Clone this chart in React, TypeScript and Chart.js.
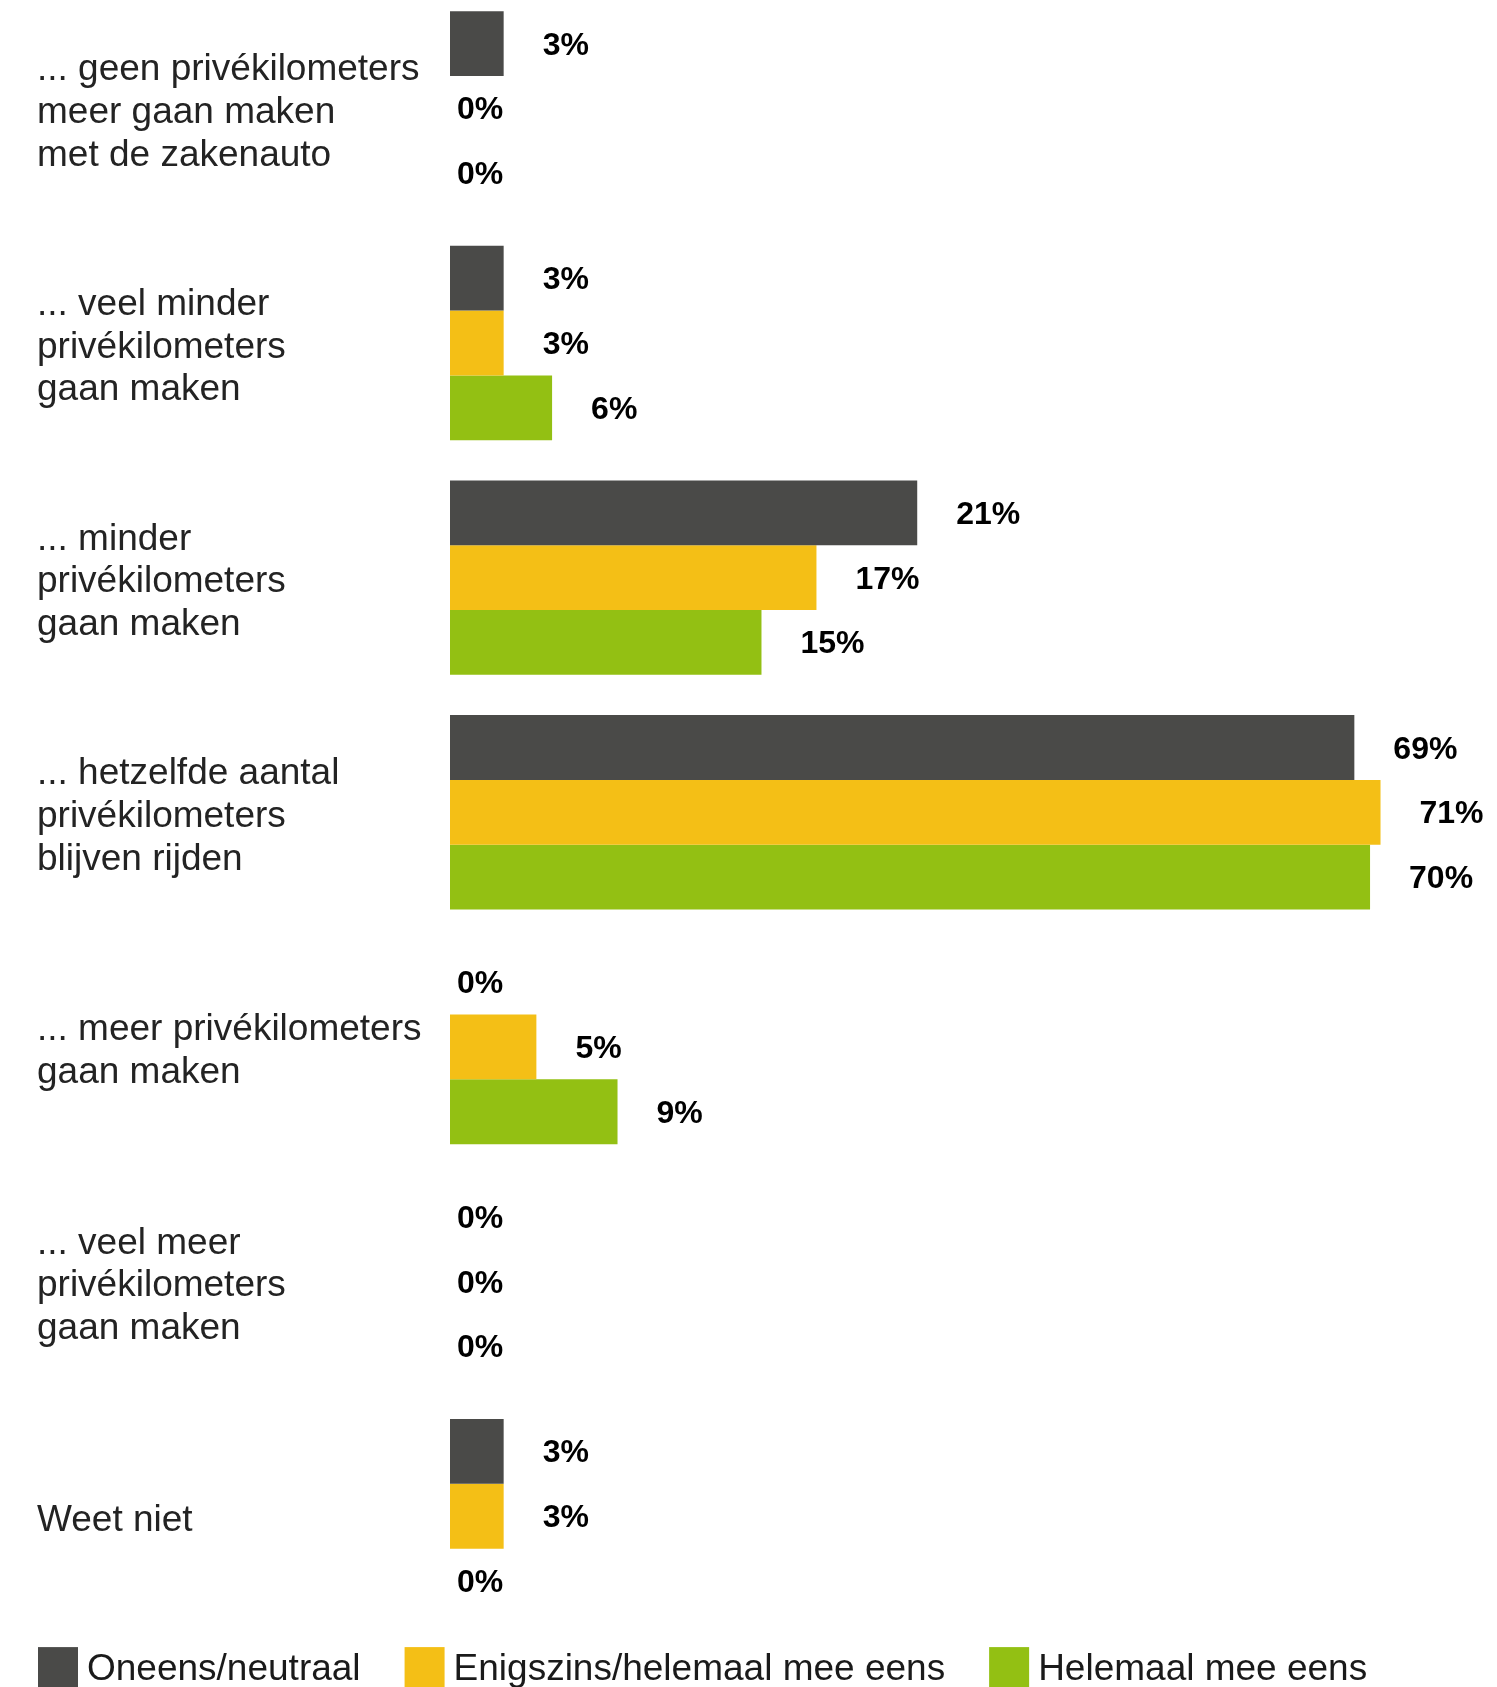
import React, { useEffect, useRef } from 'react';
import { Chart, registerables } from 'chart.js';

Chart.register(...registerables);

// ---- data ----
const categories: string[][] = [
  ['... geen privékilometers', 'meer gaan maken', 'met de zakenauto'],
  ['... veel minder', 'privékilometers', 'gaan maken'],
  ['... minder', 'privékilometers', 'gaan maken'],
  ['... hetzelfde aantal', 'privékilometers', 'blijven rijden'],
  ['... meer privékilometers', 'gaan maken'],
  ['... veel meer', 'privékilometers', 'gaan maken'],
  ['Weet niet'],
];

const seriesNames = ['Oneens/neutraal', 'Enigszins/helemaal mee eens', 'Helemaal mee eens'];
const seriesColors = ['#4a4a48', '#f4bf16', '#93c013'];

// bar lengths as drawn in the picture
const darkBars = [4.1, 4.1, 35.7, 69.1, 0, 0, 4.1];
const yellowBars = [0, 4.1, 28.0, 71.1, 6.6, 0, 4.1];
const greenBars = [0, 7.8, 23.8, 70.3, 12.8, 0, 0];

// printed value labels
const darkLabels = ['3%', '3%', '21%', '69%', '0%', '0%', '3%'];
const yellowLabels = ['0%', '3%', '17%', '71%', '5%', '0%', '3%'];
const greenLabels = ['0%', '6%', '15%', '70%', '9%', '0%', '0%'];

const xMax = 80;

const FONT = "'Liberation Sans', Arial, sans-serif";

const valueLabelPlugin = {
  id: 'valueLabels',
  afterDatasetsDraw(chart: any) {
    const { ctx } = chart;
    const labelSets = [darkLabels, yellowLabels, greenLabels];
    ctx.save();
    ctx.font = `bold 32px ${FONT}`;
    ctx.fillStyle = '#000000';
    ctx.textAlign = 'left';
    ctx.textBaseline = 'alphabetic';
    chart.data.datasets.forEach((ds: any, i: number) => {
      const meta = chart.getDatasetMeta(i);
      meta.data.forEach((bar: any, j: number) => {
        const v = ds.data[j];
        const x = bar.x + (v > 0 ? 39 : 7);
        ctx.fillText(labelSets[i][j], x, bar.y + 11);
      });
    });
    ctx.restore();
  },
};

const legendPlugin = {
  id: 'squareLegend',
  afterDraw(chart: any) {
    const { ctx, chartArea } = chart;
    ctx.save();
    ctx.font = `37px ${FONT}`;
    ctx.textAlign = 'left';
    ctx.textBaseline = 'alphabetic';
    let x = 30;
    const boxTop = chartArea.bottom + 13.5;
    const baseline = chartArea.bottom + 46.5;
    chart.data.datasets.forEach((ds: any) => {
      ctx.fillStyle = ds.backgroundColor;
      ctx.fillRect(x, boxTop, 40, 44);
      ctx.fillStyle = '#1a1a1a';
      ctx.fillText(ds.label, x + 49, baseline);
      x += 49 + ctx.measureText(ds.label).width + 44;
    });
    ctx.restore();
  },
};

export default function App() {
  const canvasRef = useRef<HTMLCanvasElement | null>(null);

  useEffect(() => {
    const canvas = canvasRef.current;
    if (!canvas) return;
    const chart = new Chart(canvas, {
      type: 'bar',
      data: {
        labels: categories,
        datasets: [
          { label: seriesNames[0], data: darkBars, backgroundColor: seriesColors[0] },
          { label: seriesNames[1], data: yellowBars, backgroundColor: seriesColors[1] },
          { label: seriesNames[2], data: greenBars, backgroundColor: seriesColors[2] },
        ],
      },
      options: {
        indexAxis: 'y',
        responsive: false,
        animation: false,
        devicePixelRatio: 1,
        datasets: {
          bar: {
            categoryPercentage: 0.8284,
            barPercentage: 1,
            borderWidth: 0,
          },
        },
        layout: {
          padding: { left: 29, right: 0, top: 0, bottom: 57.4 },
        },
        plugins: {
          legend: { display: false },
          tooltip: { enabled: false },
          title: { display: false },
        },
        scales: {
          x: {
            display: false,
            min: 0,
            max: xMax,
          },
          y: {
            grid: { display: false },
            border: { display: false },
            ticks: {
              autoSkip: false,
              crossAlign: 'far',
              padding: 0,
              color: '#232323',
              font: { family: FONT, size: 37, lineHeight: 1.154 },
            },
            afterFit: (scale: any) => {
              scale.width = 413;
              scale.paddingTop = 0;
              scale.paddingBottom = 0;
              if (!scale._labelShift) {
                const orig = scale.getPixelForTick.bind(scale);
                scale.getPixelForTick = (i: number) => orig(i) + 4.5;
                scale._labelShift = true;
              }
            },
          },
        },
      },
      plugins: [valueLabelPlugin, legendPlugin],
    } as any);
    return () => chart.destroy();
  }, []);

  return (
    <div style={{ position: 'relative', top: -17, width: 1489, height: 1700 }}>
      <style>{'body{overflow:hidden}'}</style>
      <canvas ref={canvasRef} width={1489} height={1700} style={{ display: 'block' }} />
    </div>
  );
}
